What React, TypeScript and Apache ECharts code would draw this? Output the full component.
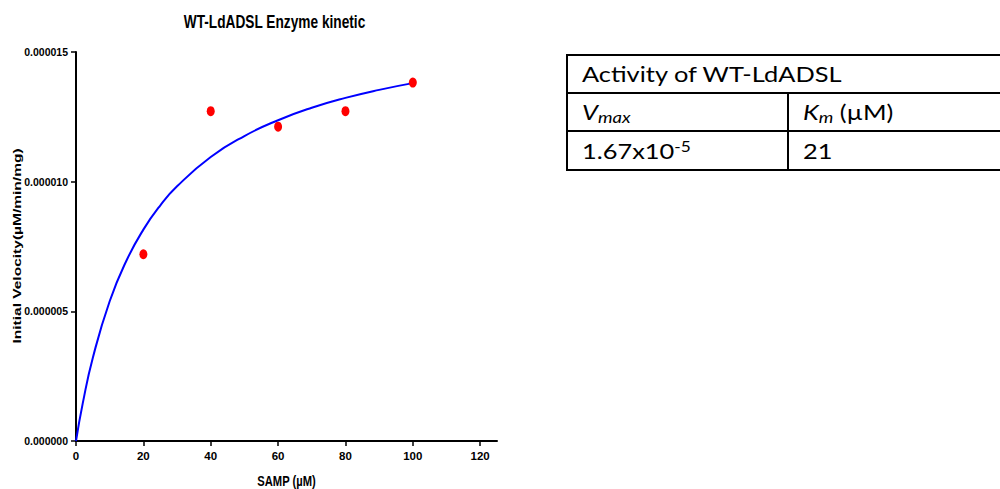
import React, { useEffect, useRef } from "react";
import * as echarts from "echarts";

// Measured data points (SAMP µM vs initial velocity µM/min/mg)
const substrate = [20, 40, 60, 80, 100];
const velocity = [7.2e-6, 12.72e-6, 12.12e-6, 12.72e-6, 13.82e-6];

// Fitted curve
const fitX = [0, 2, 5, 10, 15, 20, 25, 30, 40, 50, 60, 70, 80, 90, 100];
const fitY = [0, 1.45e-6, 3.21e-6, 5.39e-6, 6.96e-6, 8.15e-6, 9.08e-6, 9.82e-6, 10.95e-6, 11.76e-6, 12.37e-6, 12.85e-6, 13.23e-6, 13.54e-6, 13.8e-6];

const xTicks = [0, 20, 40, 60, 80, 100, 120];
const yTicks = [0, 0.000005, 0.00001, 0.000015];

const chartTitle = "WT-LdADSL Enzyme kinetic";
const xName = "SAMP (µM)";
const yName = "Initial Velocity(µM/min/mg)";

const tableTitle = "Activity of WT-LdADSL";
const vmaxText = "1.67x10";
const vmaxExp = "-5";
const kmText = "21";

const AX_FONT = "'Liberation Sans', Arial, sans-serif";
const TB_FONT = "Lato, 'Open Sans', sans-serif";
const TB_SX = 1.155;

export default function App() {
  const ref = useRef<HTMLDivElement>(null);
  useEffect(() => {
    if (!ref.current) return;
    const chart = echarts.init(ref.current, null, { renderer: "svg" });
    const lineStyle = { stroke: "#000", lineWidth: 2 };
    chart.setOption({
      animation: false,
      backgroundColor: "#ffffff",
      grid: { left: 76, right: 503, top: 52, bottom: 48, containLabel: false },
      xAxis: {
        type: "value",
        min: 0,
        max: 125,
        interval: 20,
        splitLine: { show: false },
        axisLine: { show: true, lineStyle: { color: "#000", width: 2 } },
        axisTick: { show: true, length: 5, lineStyle: { color: "#000", width: 1.5 }, customValues: xTicks },
        axisLabel: {
          customValues: xTicks,
          margin: 9,
          color: "#000",
          fontFamily: AX_FONT,
          fontWeight: "bold",
          fontSize: 11.5,
        },
      },
      yAxis: {
        type: "value",
        min: 0,
        max: 0.000015,
        interval: 0.000005,
        splitLine: { show: false },
        axisLine: { show: true, lineStyle: { color: "#000", width: 2 } },
        axisTick: { show: true, length: 5, lineStyle: { color: "#000", width: 1.5 }, customValues: yTicks },
        axisLabel: {
          customValues: yTicks,
          margin: 8,
          color: "#000",
          fontFamily: AX_FONT,
          fontWeight: "bold",
          fontSize: 10.5,
          formatter: (v: number) => v.toFixed(6),
        },
      },
      series: [
        {
          type: "line",
          data: fitX.map((x, i) => [x, fitY[i]]),
          smooth: true,
          showSymbol: false,
          symbol: "none",
          lineStyle: { color: "#0000ff", width: 2 },
          z: 2,
        },
        {
          type: "scatter",
          data: substrate.map((x, i) => [x, velocity[i]]),
          symbol: "circle",
          symbolSize: [8, 10],
          itemStyle: { color: "#ff0000", opacity: 1 },
          z: 3,
        },
      ],
      graphic: [
        {
          type: "text",
          x: 274.5,
          y: 21.5,
          scaleY: 1.33,
          style: {
            text: chartTitle,
            font: `bold 13.7px ${AX_FONT}`,
            fill: "#000",
            textAlign: "center",
            textVerticalAlign: "middle",
          },
        },
        {
          type: "text",
          x: 286.5,
          y: 481,
          scaleY: 1.35,
          style: {
            text: xName,
            font: `bold 11.2px ${AX_FONT}`,
            fill: "#000",
            textAlign: "center",
            textVerticalAlign: "middle",
          },
        },
        {
          type: "text",
          x: 17,
          y: 246,
          rotation: Math.PI / 2,
          scaleX: 1.35,
          style: {
            text: yName,
            font: `bold 11.5px ${AX_FONT}`,
            fill: "#000",
            textAlign: "center",
            textVerticalAlign: "middle",
          },
        },
        // table lines
        { type: "line", shape: { x1: 567, y1: 55, x2: 1000, y2: 55 }, style: lineStyle },
        { type: "line", shape: { x1: 567, y1: 93, x2: 1000, y2: 93 }, style: lineStyle },
        { type: "line", shape: { x1: 567, y1: 131, x2: 1000, y2: 131 }, style: lineStyle },
        { type: "line", shape: { x1: 567, y1: 170, x2: 1000, y2: 170 }, style: lineStyle },
        { type: "line", shape: { x1: 567, y1: 54, x2: 567, y2: 171 }, style: lineStyle },
        { type: "line", shape: { x1: 788, y1: 93, x2: 788, y2: 171 }, style: lineStyle },
        {
          type: "text",
          x: 582,
          y: 74,
          scaleX: TB_SX,
          style: {
            text: tableTitle,
            font: `22px ${TB_FONT}`,
            fill: "#000",
            textAlign: "left",
            textVerticalAlign: "middle",
          },
        },
        {
          type: "text",
          x: 582,
          y: 112,
          scaleX: TB_SX,
          style: {
            text: "{v|V}{s|max}",
            textAlign: "left",
            textVerticalAlign: "middle",
            rich: {
              v: { fontFamily: TB_FONT, fontSize: 22, fontStyle: "italic", lineHeight: 26, fill: "#000" },
              s: { fontFamily: TB_FONT, fontSize: 16, fontStyle: "italic", lineHeight: 14, verticalAlign: "bottom", fill: "#000" },
            },
          },
        },
        {
          type: "text",
          x: 803,
          y: 112,
          scaleX: TB_SX,
          style: {
            text: "{v|K}{s|m}{n| (µM)}",
            textAlign: "left",
            textVerticalAlign: "middle",
            rich: {
              v: { fontFamily: TB_FONT, fontSize: 22, fontStyle: "italic", lineHeight: 26, fill: "#000" },
              s: { fontFamily: TB_FONT, fontSize: 16, fontStyle: "italic", lineHeight: 14, verticalAlign: "bottom", fill: "#000" },
              n: { fontFamily: TB_FONT, fontSize: 22, lineHeight: 26, fill: "#000" },
            },
          },
        },
        {
          type: "text",
          x: 582,
          y: 151,
          scaleX: TB_SX,
          style: {
            text: `{n|${vmaxText}}{p|${vmaxExp}}`,
            textAlign: "left",
            textVerticalAlign: "middle",
            rich: {
              n: { fontFamily: TB_FONT, fontSize: 22, lineHeight: 26, fill: "#000" },
              p: { fontFamily: TB_FONT, fontSize: 15, lineHeight: 20, verticalAlign: "top", fill: "#000" },
            },
          },
        },
        {
          type: "text",
          x: 803,
          y: 151,
          scaleX: TB_SX,
          style: {
            text: kmText,
            font: `22px ${TB_FONT}`,
            fill: "#000",
            textAlign: "left",
            textVerticalAlign: "middle",
          },
        },
      ],
    });
    return () => chart.dispose();
  }, []);
  return (
    <div
      ref={ref}
      style={{ position: "fixed", left: 0, top: 0, width: 1000, height: 489, background: "#fff" }}
    />
  );
}
